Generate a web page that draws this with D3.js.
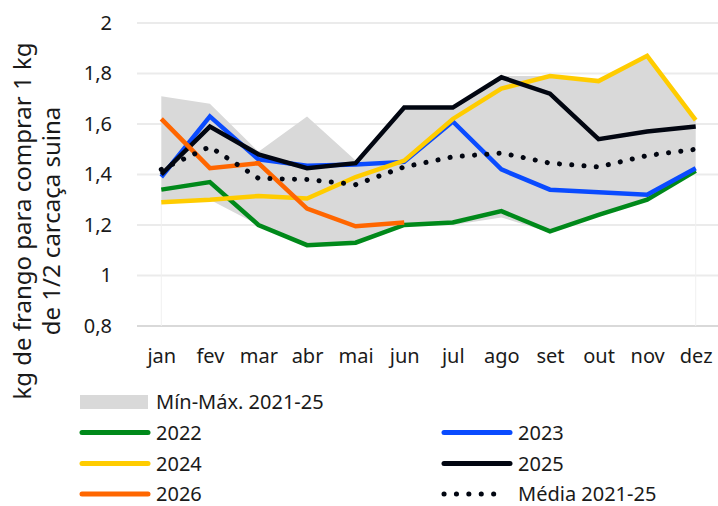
<!DOCTYPE html>
<html>
<head>
<meta charset="utf-8">
<script src="https://cdn.jsdelivr.net/npm/d3@7"></script>
<style>
  body { margin: 0; background: #fff; }
  svg { display: block; font-family: "Noto Sans", sans-serif; }
  .tick text { fill: #1a1a1a; }
</style>
</head>
<body>
<div id="chart"></div>
<script>
'use strict';

// months and y ticks
var months = ['jan', 'fev', 'mar', 'abr', 'mai', 'jun', 'jul', 'ago', 'set', 'out', 'nov', 'dez'];
var yTicks = [0.8, 1, 1.2, 1.4, 1.6, 1.8, 2];

// min-max band 2021-25
var minVals = [1.29, 1.30, 1.20, 1.12, 1.13, 1.20, 1.20, 1.23, 1.17, 1.24, 1.30, 1.41];
var maxVals = [1.71, 1.68, 1.49, 1.63, 1.455, 1.665, 1.665, 1.79, 1.79, 1.77, 1.87, 1.62];

// yearly series
var s2022 = [1.34, 1.37, 1.20, 1.12, 1.13, 1.20, 1.21, 1.255, 1.175, 1.24, 1.30, 1.415];
var s2023 = [1.39, 1.63, 1.46, 1.435, 1.44, 1.45, 1.61, 1.42, 1.34, 1.33, 1.32, 1.425];
var s2024 = [1.29, 1.30, 1.315, 1.305, 1.39, 1.455, 1.62, 1.74, 1.79, 1.77, 1.87, 1.615];
var s2025 = [1.40, 1.59, 1.48, 1.425, 1.445, 1.665, 1.665, 1.785, 1.72, 1.54, 1.57, 1.59];
var s2026 = [1.62, 1.425, 1.445, 1.265, 1.195, 1.21];
var media = [1.42, 1.51, 1.385, 1.38, 1.36, 1.43, 1.47, 1.485, 1.445, 1.43, 1.475, 1.50];

var W = 718, H = 506;
var plot = { left: 137, right: 720, top: 23, bottom: 326 };

var series = [
  { name: '2022', values: s2022, color: '#00891a' },
  { name: '2023', values: s2023, color: '#0a4bff' },
  { name: '2024', values: s2024, color: '#ffcc00' },
  { name: '2025', values: s2025, color: '#020611' },
  { name: '2026', values: s2026, color: '#ff6600' }
];

var svg = d3.select('#chart').append('svg')
    .attr('width', W)
    .attr('height', H);

var x = d3.scalePoint()
    .domain(months)
    .range([plot.left, plot.right])
    .padding(0.5);

var y = d3.scaleLinear()
    .domain([0.8, 2])
    .range([plot.bottom, plot.top]);

var fmt = function(d) { return String(d).replace('.', ','); };

// gridlines
svg.append('g')
  .selectAll('line')
  .data(yTicks)
  .join('line')
    .attr('x1', plot.left)
    .attr('x2', plot.right)
    .attr('y1', function(d) { return y(d); })
    .attr('y2', function(d) { return y(d); })
    .attr('stroke', function(d) { return d === 0.8 ? '#d9d9d9' : '#ebebeb'; })
    .attr('stroke-width', 1.8);

// y axis labels
var yAxis = svg.append('g')
    .attr('transform', 'translate(' + (plot.left - 25) + ',0)')
    .call(d3.axisLeft(y).tickValues(yTicks).tickFormat(fmt).tickSize(0).tickPadding(0));
yAxis.select('.domain').remove();
yAxis.selectAll('text').attr('font-size', 20).attr('font-family', '"Noto Sans", sans-serif');

// x axis labels
var xAxis = svg.append('g')
    .attr('transform', 'translate(0,' + (plot.bottom + 23) + ')')
    .call(d3.axisBottom(x).tickSize(0).tickPadding(0));
xAxis.select('.domain').remove();
xAxis.selectAll('text').attr('font-size', 20).attr('font-family', '"Noto Sans", sans-serif');

// y title
var title = svg.append('text')
    .attr('transform', 'translate(0,221) rotate(-90)')
    .attr('text-anchor', 'middle')
    .attr('font-size', 24)
    .attr('fill', '#1a1a1a');
title.append('tspan').attr('x', 0).attr('y', 31).text('kg de frango para comprar 1 kg');
title.append('tspan').attr('x', 0).attr('y', 60).text('de 1/2 carcaça suina');

// min-max band
var band = d3.area()
    .x(function(d, i) { return x(months[i]); })
    .y0(function(d, i) { return y(minVals[i]); })
    .y1(function(d) { return y(d); });

svg.append('path')
    .datum(maxVals)
    .attr('d', band)
    .attr('fill', '#d9d9d9');

// faint edges of the band down to the axis
svg.append('g')
  .selectAll('line')
  .data([0, months.length - 1])
  .join('line')
    .attr('x1', function(i) { return x(months[i]); })
    .attr('x2', function(i) { return x(months[i]); })
    .attr('y1', function(i) { return y(minVals[i]); })
    .attr('y2', plot.bottom)
    .attr('stroke', '#f0f0f0')
    .attr('stroke-width', 1);

var line = d3.line()
    .x(function(d, i) { return x(months[i]); })
    .y(function(d) { return y(d); });

svg.append('g')
  .selectAll('path')
  .data(series)
  .join('path')
    .attr('d', function(d) { return line(d.values); })
    .attr('fill', 'none')
    .attr('stroke', function(d) { return d.color; })
    .attr('stroke-width', 4.5)
    .attr('stroke-linejoin', 'miter');

svg.append('path')
    .datum(media)
    .attr('d', line)
    .attr('fill', 'none')
    .attr('stroke', '#020611')
    .attr('stroke-width', 5)
    .attr('stroke-linecap', 'round')
    .attr('stroke-dasharray', '0.1 12.2');

// legend
var leg = svg.append('g').attr('font-size', 20).attr('fill', '#1a1a1a');

leg.append('rect')
    .attr('x', 80).attr('y', 395)
    .attr('width', 68).attr('height', 14)
    .attr('fill', '#d9d9d9');
leg.append('text')
    .attr('x', 156).attr('y', 402)
    .attr('dy', '0.35em')
    .text('Mín-Máx. 2021-25');

var legItems = series.map(function(s) { return { name: s.name, color: s.color, dotted: false }; })
    .concat([{ name: 'Média 2021-25', color: '#020611', dotted: true }]);

var legRows = [432.5, 432.5, 463.5, 463.5, 494, 494];
var legCols = [80, 442];

var item = leg.selectAll('g.item')
  .data(legItems)
  .join('g')
    .attr('class', 'item')
    .attr('transform', function(d, i) {
      return 'translate(' + legCols[i % 2] + ',' + legRows[i] + ')';
    });

item.append('line')
    .attr('x1', 2)
    .attr('x2', function(d) { return d.dotted ? 64 : 68; })
    .attr('stroke', function(d) { return d.color; })
    .attr('stroke-width', 5)
    .attr('stroke-linecap', 'round')
    .attr('stroke-dasharray', function(d) { return d.dotted ? '0.1 12.3' : null; });

item.append('text')
    .attr('x', 76)
    .attr('dy', '0.35em')
    .text(function(d) { return d.name; });
</script>
</body>
</html>
